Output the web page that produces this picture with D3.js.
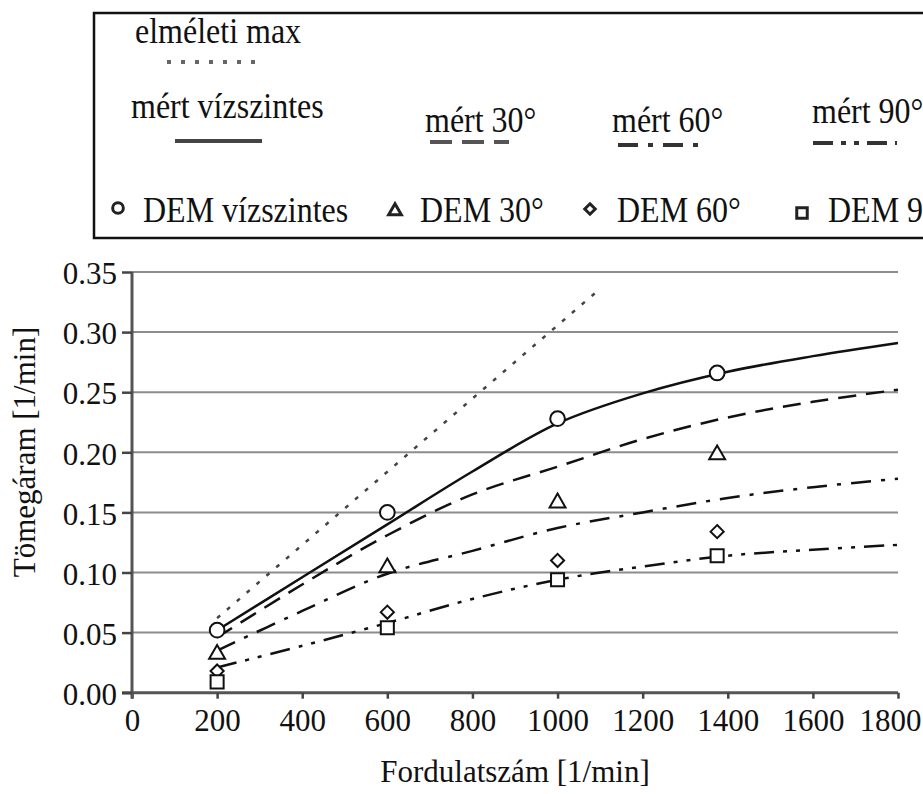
<!DOCTYPE html>
<html>
<head>
<meta charset="utf-8">
<script src="https://cdn.jsdelivr.net/npm/d3@7"></script>
<style>
	body { margin: 0; background: #fff; }
	text { font-family: "Liberation Serif", "Times New Roman", serif; fill: #111; }
</style>
</head>
<body>
<div id="chart"></div>
<script>
const rpmMeasured = [200, 400, 600, 800, 1000, 1200, 1400, 1600, 1800];
const mertVizszintes = [0.052, 0.096, 0.140, 0.184, 0.224, 0.249, 0.267, 0.280, 0.291];
const mert30 = [0.046, 0.090, 0.131, 0.165, 0.188, 0.211, 0.229, 0.242, 0.252];
const mert60 = [0.035, 0.068, 0.099, 0.118, 0.137, 0.150, 0.162, 0.171, 0.178];
const mert90 = [0.021, 0.039, 0.058, 0.078, 0.094, 0.105, 0.114, 0.119, 0.123];

// theoretical max line
const rpmElmeleti = [200, 1090];
const elmeletiMax = [0.062, 0.333];

// DEM points
const rpmDem = [200, 600, 1000, 1375];
const demVizszintes = [0.052, 0.150, 0.228, 0.266];
const dem30 = [0.032, 0.104, 0.158, 0.198];
const dem60 = [0.018, 0.067, 0.110, 0.134];
const dem90 = [0.009, 0.054, 0.094, 0.114];

const xTicks = [0, 200, 400, 600, 800, 1000, 1200, 1400, 1600, 1800];
const yTicks = [0, 0.05, 0.10, 0.15, 0.20, 0.25, 0.30, 0.35];

const width = 923, height = 794;
const svg = d3.select("#chart").append("svg")
	.attr("width", width)
	.attr("height", height);

const x = d3.scaleLinear().domain([0, 1800]).range([132, 898]);
const y = d3.scaleLinear().domain([0, 0.35]).range([692.7, 272]);

// gridlines
svg.append("g")
	.selectAll("line")
	.data(yTicks.slice(1))
	.enter()
	.append("line")
	.attr("x1", x(0))
	.attr("x2", x(1800))
	.attr("y1", d => y(d))
	.attr("y2", d => y(d))
	.attr("stroke", "#8c8c8c")
	.attr("stroke-width", 2);

// axes
const xAxis = d3.axisBottom(x).tickValues(xTicks).tickSize(6).tickPadding(10).tickFormat(d3.format("d"));
const yAxis = d3.axisLeft(y).tickValues(yTicks).tickSize(10).tickPadding(5).tickFormat(d3.format(".2f"));

const xAxisGroup = svg.append("g")
	.attr("transform", `translate(0, ${y(0)})`)
	.call(xAxis);
const yAxisGroup = svg.append("g")
	.attr("transform", `translate(${x(0)}, 0)`)
	.call(yAxis);

[xAxisGroup, yAxisGroup].forEach(g => {
	g.select(".domain").attr("stroke", "#555").attr("stroke-width", 3);
	g.selectAll(".tick line").attr("stroke", "#444").attr("stroke-width", 2.5);
	g.selectAll("text")
		.attr("fill", "#111")
		.style("font-family", "'Liberation Serif', 'Times New Roman', serif")
		.style("font-size", "31px");
});
xAxisGroup.select(".domain").attr("d", `M${x(0) - 10},0H${x(1800)}`);
yAxisGroup.select(".domain").attr("d", `M0,${y(0.35)}V${y(0) + 6}`);
yAxisGroup.selectAll(".tick text").attr("dy", "0.38em");
// last label sits against the right edge, as in the original
xAxisGroup.selectAll(".tick text")
	.filter(d => d === 1800)
	.attr("text-anchor", "end")
	.attr("x", 23);

// axis titles
svg.append("text")
	.attr("x", 515)
	.attr("y", 782)
	.attr("text-anchor", "middle")
	.style("font-size", "31px")
	.text("Fordulatszám [1/min]");

svg.append("text")
	.attr("transform", "translate(35, 452) rotate(-90)")
	.attr("text-anchor", "middle")
	.style("font-size", "31px")
	.text("Tömegáram [1/min]");

// lines
const line = d3.line()
	.x(d => x(d[0]))
	.y(d => y(d[1]))
	.curve(d3.curveCatmullRom.alpha(0.5));

const series = [
	{ xs: rpmElmeleti, ys: elmeletiMax, dash: "4,9", color: "#444", w: 2.5 },
	{ xs: rpmMeasured, ys: mertVizszintes, dash: null, color: "#111", w: 2.5 },
	{ xs: rpmMeasured, ys: mert30, dash: "18,10", color: "#111", w: 2.5 },
	{ xs: rpmMeasured, ys: mert60, dash: "20,10,4,10", color: "#111", w: 2.5 },
	{ xs: rpmMeasured, ys: mert90, dash: "20,9,4,9,4,9", color: "#111", w: 2.5 }
];

svg.append("g")
	.selectAll("path")
	.data(series)
	.enter()
	.append("path")
	.attr("d", s => line(s.xs.map((v, i) => [v, s.ys[i]])))
	.attr("fill", "none")
	.attr("stroke", s => s.color)
	.attr("stroke-width", s => s.w)
	.attr("stroke-dasharray", s => s.dash);

// markers
const markers = [
	{ ys: demVizszintes, sym: d3.symbolCircle, size: 170 },
	{ ys: dem30, sym: d3.symbolTriangle, size: 110 },
	{ ys: dem60, sym: d3.symbolDiamond2, size: 110 },
	{ ys: dem90, sym: d3.symbolSquare, size: 170 }
];

markers.forEach(m => {
	svg.append("g")
		.selectAll("path")
		.data(rpmDem.map((v, i) => [v, m.ys[i]]))
		.enter()
		.append("path")
		.attr("d", d3.symbol().type(m.sym).size(m.size))
		.attr("transform", d => `translate(${x(d[0])}, ${y(d[1])})`)
		.attr("fill", "#fff")
		.attr("stroke", "#111")
		.attr("stroke-width", 2);
});

// legend
const legend = svg.append("g");
legend.append("rect")
	.attr("x", 94)
	.attr("y", 13)
	.attr("width", 900)
	.attr("height", 225)
	.attr("fill", "none")
	.attr("stroke", "#111")
	.attr("stroke-width", 2.5);

const legendText = [
	{ label: "elméleti max", x: 135, y: 43 },
	{ label: "mért vízszintes", x: 131, y: 118 },
	{ label: "mért 30°", x: 425, y: 132 },
	{ label: "mért 60°", x: 612, y: 132 },
	{ label: "mért 90°", x: 812, y: 123 },
	{ label: "DEM vízszintes", x: 143, y: 222 },
	{ label: "DEM 30°", x: 420, y: 222 },
	{ label: "DEM 60°", x: 617, y: 222 },
	{ label: "DEM 90°", x: 828, y: 222 }
];
legend.selectAll("text")
	.data(legendText)
	.enter()
	.append("text")
	.attr("transform", d => `translate(${d.x}, ${d.y}) scale(1, 1.15)`)
	.style("font-size", "32px")
	.text(d => d.label);

const legendLines = [
	{ x1: 167, x2: 256, y: 62, dash: "4,10", color: "#666" },
	{ x1: 175, x2: 262, y: 141, dash: null, color: "#444" },
	{ x1: 430, x2: 509, y: 142, dash: "22,10", color: "#555" },
	{ x1: 618, x2: 702, y: 145, dash: "20,10,5,10", color: "#333" },
	{ x1: 813, x2: 897, y: 143, dash: "20,8,5,8,5,8", color: "#333" }
];
legend.selectAll("line")
	.data(legendLines)
	.enter()
	.append("line")
	.attr("x1", d => d.x1)
	.attr("x2", d => d.x2)
	.attr("y1", d => d.y)
	.attr("y2", d => d.y)
	.attr("stroke", d => d.color)
	.attr("stroke-width", 4)
	.attr("stroke-dasharray", d => d.dash);

const legendMarks = [
	{ sym: d3.symbolCircle, size: 90, x: 118, y: 208 },
	{ sym: d3.symbolTriangle, size: 70, x: 395, y: 211 },
	{ sym: d3.symbolDiamond2, size: 70, x: 590, y: 209 },
	{ sym: d3.symbolSquare, size: 110, x: 802, y: 213 }
];
legend.selectAll("path")
	.data(legendMarks)
	.enter()
	.append("path")
	.attr("d", d => d3.symbol().type(d.sym).size(d.size)())
	.attr("transform", d => `translate(${d.x}, ${d.y})`)
	.attr("fill", "#fff")
	.attr("stroke", "#222")
	.attr("stroke-width", 3);
</script>
</body>
</html>
